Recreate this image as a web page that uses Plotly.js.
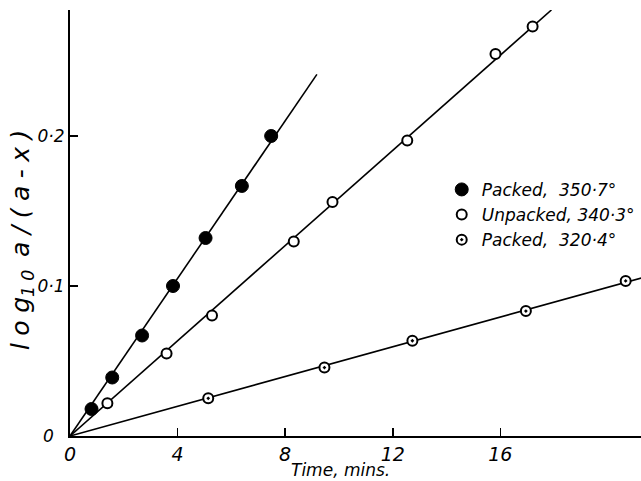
<!DOCTYPE html>
<html>
<head>
<meta charset="utf-8">
<script src="https://cdn.plot.ly/plotly-3.0.1.min.js"></script>
<style>html,body{margin:0;padding:0;background:#fff;}#chart{width:641px;height:481px;}</style>
</head>
<body>
<div id="chart"></div>
<script>
// Packed, 350.7°
const packedHotTime = [0.8, 1.57, 2.68, 3.83, 5.04, 6.39, 7.48];
const packedHotLog  = [0.018, 0.039, 0.067, 0.100, 0.132, 0.1667, 0.200];
// Unpacked, 340.3°
const unpackedTime = [1.39, 3.59, 5.28, 8.32, 9.76, 12.54, 15.82, 17.2];
const unpackedLog  = [0.0218, 0.055, 0.0804, 0.1296, 0.156, 0.197, 0.2547, 0.273];
// Packed, 320.4°
const packedColdTime = [5.14, 9.46, 12.73, 16.95, 20.66];
const packedColdLog  = [0.0251, 0.0456, 0.0635, 0.0833, 0.1034];

const seriesNames = ['Packed,  350·7°', 'Unpacked, 340·3°', 'Packed,  320·4°'];
const lineEndTime = [9.18, 17.9, 22];

const xTickVals = [0, 4, 8, 12, 16];
const xTickText = ['0', '4', '8', '12', '16'];
const yTickVals = [0, 0.1, 0.2];
const yTickText = ['0\u2007', '0·1', '0·2'];

function slopeThroughOrigin(xs, ys) {
  let sxy = 0, sxx = 0;
  for (let i = 0; i < xs.length; i++) { sxy += xs[i] * ys[i]; sxx += xs[i] * xs[i]; }
  return sxy / sxx;
}
const dataSets = [
  [packedHotTime, packedHotLog],
  [unpackedTime, unpackedLog],
  [packedColdTime, packedColdLog]
];
const fitTraces = dataSets.map((d, i) => {
  const k = slopeThroughOrigin(d[0], d[1]);
  return {
    x: [0, lineEndTime[i]], y: [0, k * lineEndTime[i]],
    mode: 'lines', line: {color: '#000', width: 1.6},
    showlegend: false, hoverinfo: 'skip'
  };
});

const F = "'DejaVu Sans', 'Liberation Sans', sans-serif";
const markerStyles = [
  {symbol: 'circle', size: 13, color: '#000', line: {color: '#000', width: 1}},
  {symbol: 'circle', size: 10, color: '#fff', line: {color: '#000', width: 2}},
  {symbol: 'circle-dot', size: 10, color: '#fff', line: {color: '#000', width: 2}}
];
const pointTraces = dataSets.map((d, i) => ({
  x: d[0], y: d[1], mode: 'markers', name: seriesNames[i],
  marker: markerStyles[i], cliponaxis: false
}));

const T = '\u2009\u200A';
const yTitle = 'l' + T + 'o' + T + 'g<sub>1' + T + '0</sub>\u2002a' + T + '/' + T + '(' + T + 'a' + T + '-' + T + 'x' + T + ')';

const layout = {
  width: 641, height: 481,
  margin: {l: 70, r: 0, t: 10, b: 45},
  paper_bgcolor: '#fff', plot_bgcolor: '#fff',
  showlegend: true,
  legend: {
    x: 0.651, y: 0.62, xanchor: 'left', yanchor: 'top',
    bgcolor: 'rgba(0,0,0,0)', borderwidth: 0,
    font: {family: F, size: 17, color: '#000', style: 'italic'},
    tracegroupgap: 0
  },
  xaxis: {
    range: [0, 21.23], showgrid: false, zeroline: false,
    showline: true, linecolor: '#000', linewidth: 2,
    ticks: 'inside', ticklen: 8, tickwidth: 1.5, tickcolor: '#000',
    tickvals: xTickVals, ticktext: xTickText,
    tickfont: {family: F, size: 19, color: '#000', style: 'italic'}
  },
  yaxis: {
    range: [0, 0.284], showgrid: false, zeroline: false,
    showline: true, linecolor: '#000', linewidth: 2,
    ticks: 'inside', ticklen: 8, tickwidth: 1.5, tickcolor: '#000',
    tickvals: yTickVals, ticktext: yTickText,
    tickfont: {family: F, size: 17, color: '#000', style: 'italic'}
  },
  annotations: [
    {text: 'Time, mins.', xref: 'paper', yref: 'paper', x: 0.473, y: -0.08,
     showarrow: false, xanchor: 'center', yanchor: 'middle',
     font: {family: F, size: 17, color: '#000', style: 'italic'}},
    {text: yTitle, xref: 'paper', yref: 'paper', x: -0.084, y: 0.46,
     textangle: -90, showarrow: false, xanchor: 'center', yanchor: 'middle',
     font: {family: F, size: 25, color: '#000', style: 'italic'}}
  ]
};

Plotly.newPlot('chart', fitTraces.concat(pointTraces), layout, {displayModeBar: false, staticPlot: true});
</script>
</body>
</html>
